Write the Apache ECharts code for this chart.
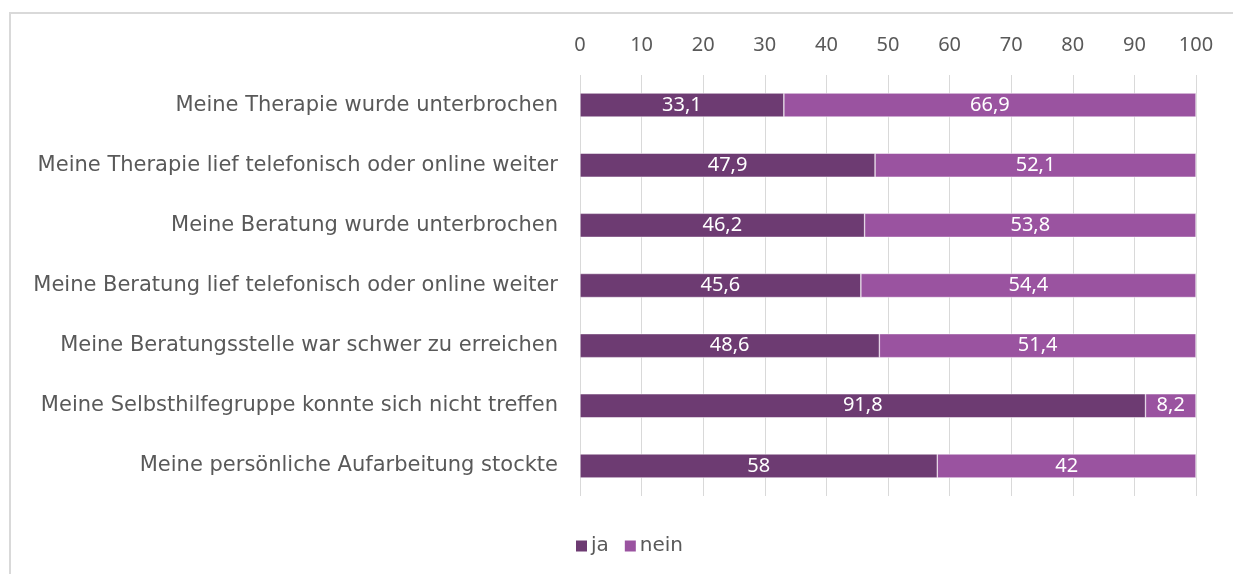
<!DOCTYPE html>
<html>
<head>
<meta charset="utf-8">
<script src="https://cdn.jsdelivr.net/npm/echarts@6/dist/echarts.min.js"></script>
<style>
  html, body { margin: 0; padding: 0; background: #fff; }
  #chart { width: 1233px; height: 574px; }
</style>
</head>
<body>
<div id="chart"></div>
<script>
// Kategorien (von oben nach unten)
var categories = [
    'Meine Therapie wurde unterbrochen',
    'Meine Therapie lief telefonisch oder online weiter',
    'Meine Beratung wurde unterbrochen',
    'Meine Beratung lief telefonisch oder online weiter',
    'Meine Beratungsstelle war schwer zu erreichen',
    'Meine Selbsthilfegruppe konnte sich nicht treffen',
    'Meine persönliche Aufarbeitung stockte'
];
var jaValues = [33.1, 47.9, 46.2, 45.6, 48.6, 91.8, 58];
var neinValues = [66.9, 52.1, 53.8, 54.4, 51.4, 8.2, 42];
var seriesNames = ['ja', 'nein'];

var textColor = '#595959';
var labelFont = 'DejaVu Sans';
var numberFont = '"Liberation Sans Narrow", "Noto Sans", sans-serif';

function fmt(p) {
    // Komma als Dezimaltrenner
    return String(p.value).replace('.', ',');
}

var myChart = echarts.init(document.getElementById('chart'));
var option = {
    animation: false,
    color: ['#6D3B72', '#9A53A0'],
    graphic: [{
        type: 'rect',
        shape: { x: 10, y: 13, width: 2000, height: 2000 },
        style: { fill: 'none', stroke: '#D9D9D9', lineWidth: 2 }
    }],
    grid: { left: 580, right: 37, top: 75, bottom: 78 },
    legend: {
        top: 536,
        left: 574,
        padding: 0,
        icon: 'rect',
        itemWidth: 13,
        itemHeight: 13,
        itemGap: 14,
        textStyle: { color: textColor, fontSize: 20, fontFamily: labelFont, padding: [0, 0, 0, -2] },
        data: seriesNames
    },
    xAxis: {
        type: 'value',
        position: 'top',
        min: 0,
        max: 100,
        interval: 10,
        axisLine: { show: false },
        axisTick: { show: false },
        axisLabel: { color: textColor, fontSize: 20, fontFamily: 'Noto Sans', margin: 20 },
        splitLine: { show: true, lineStyle: { color: '#D9D9D9', width: 1 } }
    },
    yAxis: {
        type: 'category',
        inverse: true,
        data: categories,
        axisLine: { show: false },
        axisTick: { show: false },
        axisLabel: { color: textColor, fontSize: 21, fontFamily: labelFont, margin: 22 }
    },
    series: [
        {
            name: seriesNames[0],
            type: 'bar',
            stack: 'total',
            barWidth: 24,
            data: jaValues,
            itemStyle: { borderColor: '#ffffff', borderWidth: 0.5 },
            label: { show: true, position: 'inside', color: '#fff', fontSize: 20, fontFamily: numberFont, formatter: fmt }
        },
        {
            name: seriesNames[1],
            type: 'bar',
            stack: 'total',
            barWidth: 24,
            data: neinValues,
            itemStyle: { borderColor: '#ffffff', borderWidth: 0.5 },
            label: { show: true, position: 'inside', color: '#fff', fontSize: 20, fontFamily: numberFont, formatter: fmt }
        }
    ]
};
myChart.setOption(option);
</script>
</body>
</html>
